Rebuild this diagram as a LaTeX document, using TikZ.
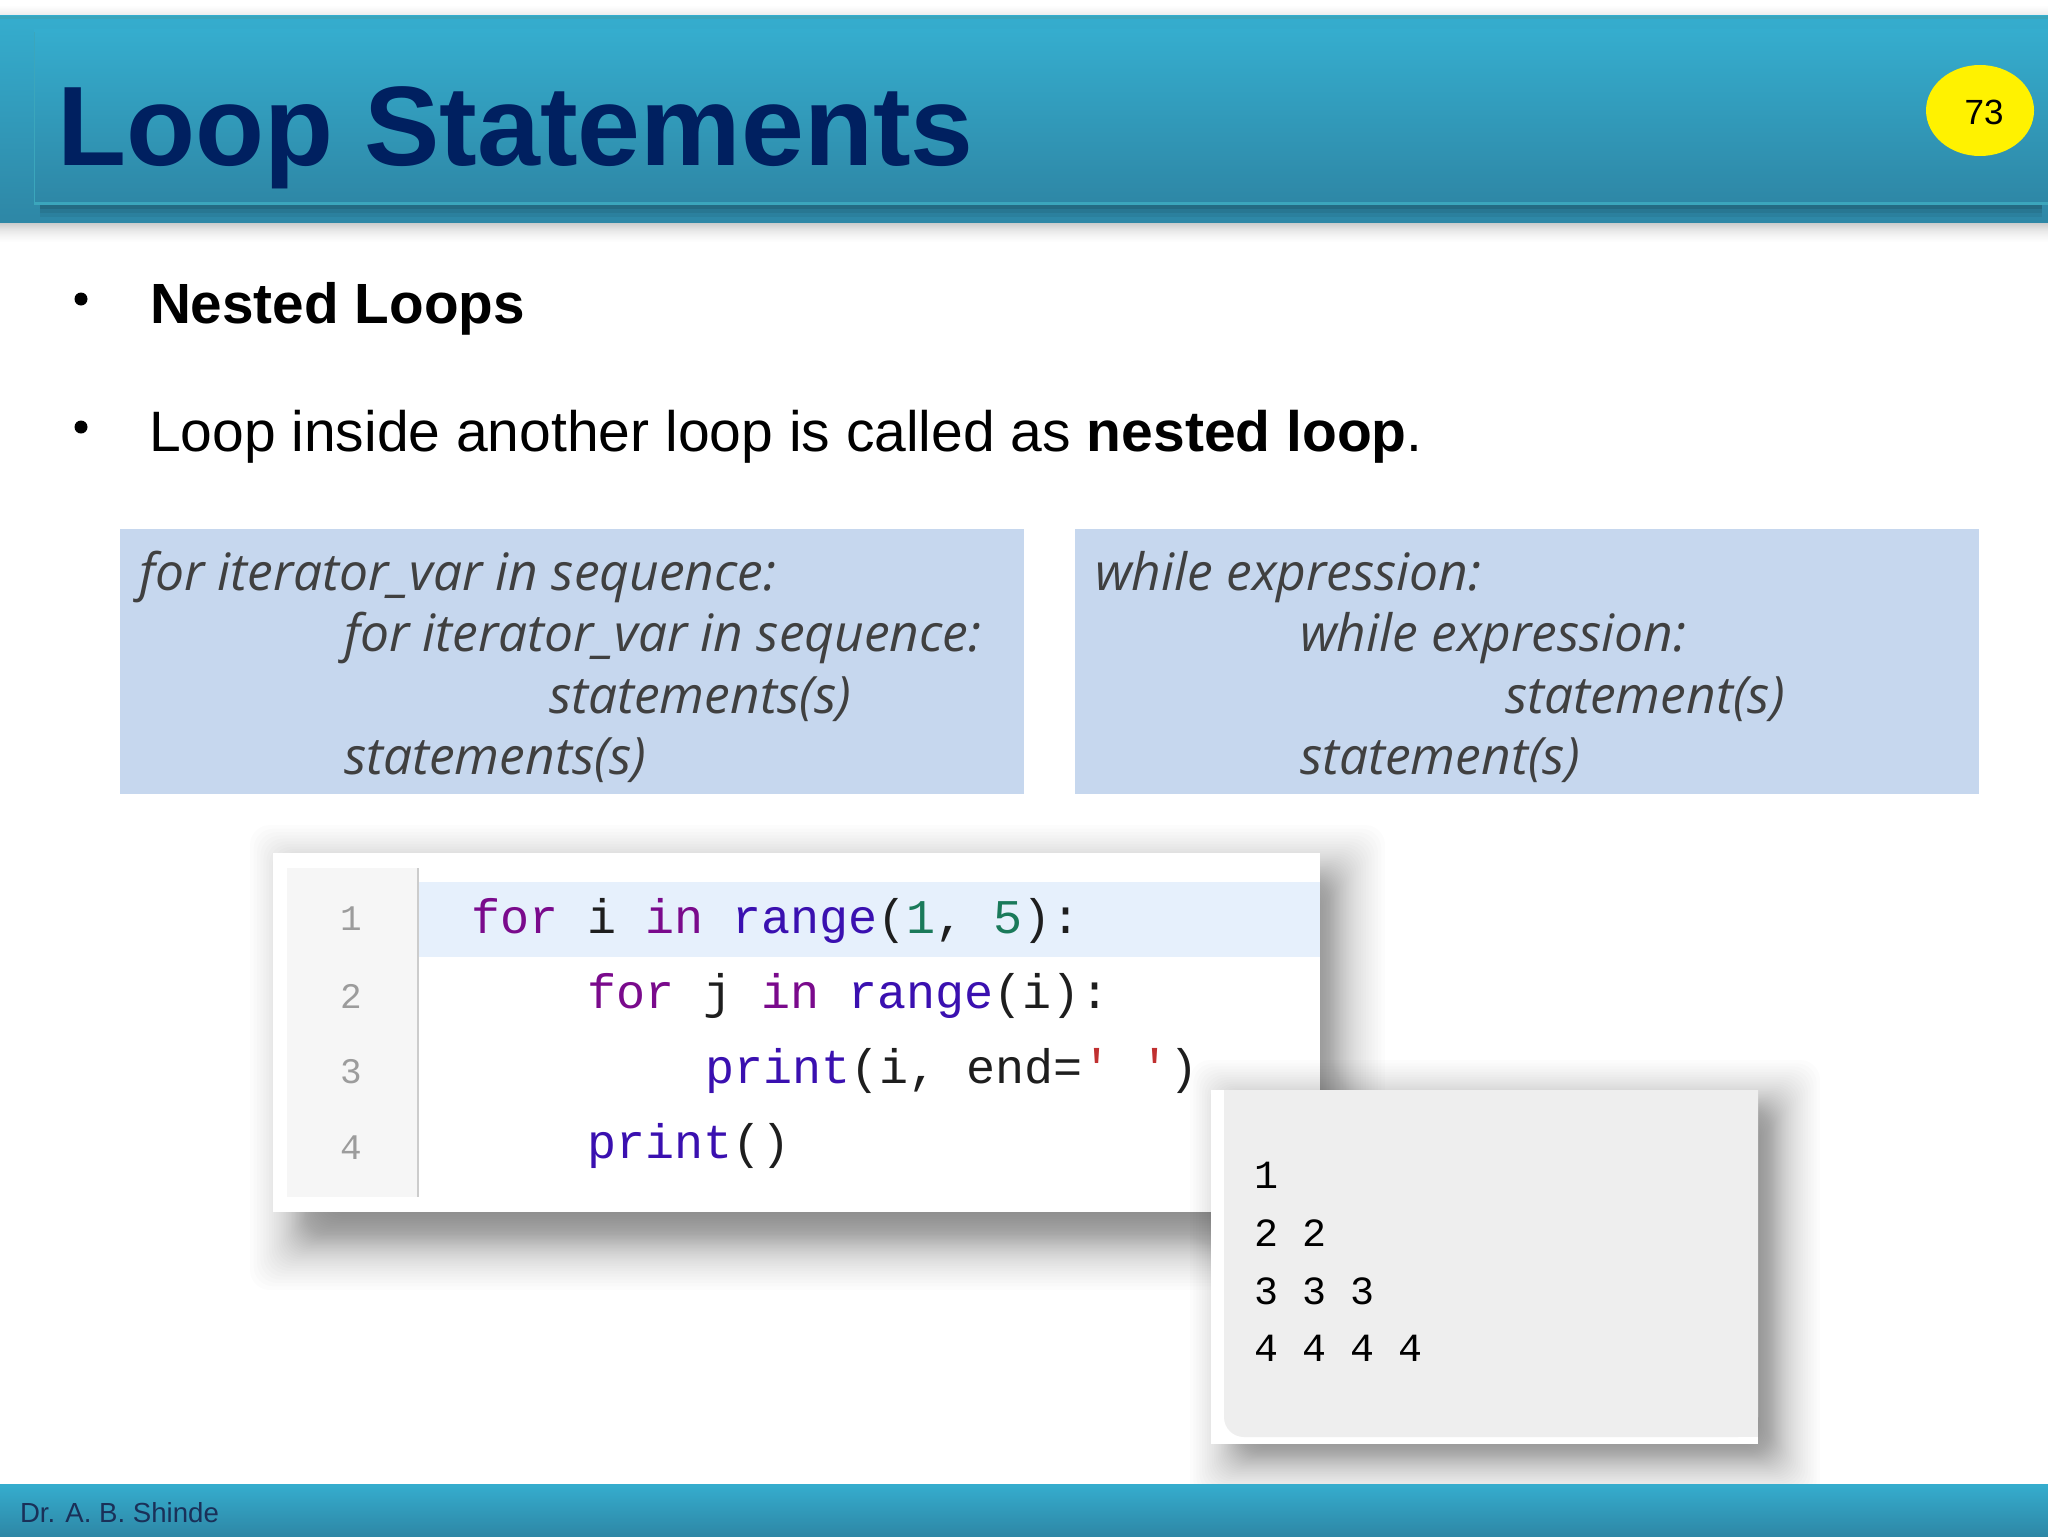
\documentclass[tikz,border=0pt]{standalone}
\usepackage{fontspec}
\setmainfont{Liberation Sans}
\newfontfamily\codefont{Liberation Mono}
\newfontfamily\boxfont{Open Sans}
\usetikzlibrary{shapes.geometric}
\definecolor{bandtop}{HTML}{35ADCE}
\definecolor{bandbot}{HTML}{2E87A6}
\definecolor{bandline}{HTML}{3BA6BC}
\definecolor{titleblue}{HTML}{002060}
\definecolor{boxblue}{HTML}{C6D7EE}
\definecolor{boxtext}{HTML}{404040}
\definecolor{kwpurple}{HTML}{7A0A8C}
\definecolor{fnblue}{HTML}{3A10B0}
\definecolor{numgreen}{HTML}{1A7A5A}
\definecolor{strred}{HTML}{C03030}
\definecolor{codeink}{HTML}{1E1E1E}
\definecolor{linenum}{HTML}{9C9C9C}
\definecolor{gutter}{HTML}{F6F6F6}
\definecolor{hilite}{HTML}{E6F0FC}
\definecolor{outgray}{HTML}{EEEEEE}
\definecolor{footink}{HTML}{1A3058}
\newcommand\softshade[6]{%
  \foreach \k in {0,...,48}{%
    \pgfmathsetmacro\uu{1-2*\k/48}%
    \pgfmathsetmacro\dd{#5*(0.6*\uu+0.4*\uu*\uu*\uu)}%
    \fill[black,opacity=#6,rounded corners=10pt] (#1-\dd,#2-\dd) rectangle (#3+\dd,#4+\dd);
  }}
\tikzset{
  x=0.5pt,y=-0.5pt,
  plain/.style={inner sep=0pt,outer sep=0pt},
  slidetext/.style={plain,anchor=base west,font=\fontsize{28.5}{34}\selectfont,text=black},
  bullet/.style={circle,fill=black,minimum size=13*0.5pt,plain},
  formula/.style={plain,anchor=base west,font=\boxfont\itshape\fontsize{25.75}{30}\selectfont,text=boxtext},
  codeline/.style={plain,anchor=base west,font=\codefont\fontsize{24.2}{28}\selectfont,text=codeink},
  numline/.style={plain,anchor=base,font=\codefont\fontsize{18}{22}\selectfont,text=linenum},
  outline/.style={plain,anchor=base west,font=\codefont\fontsize{20}{24}\selectfont,text=black},
}
\newcommand\kw[1]{\textcolor{kwpurple}{#1}}
\newcommand\fn[1]{\textcolor{fnblue}{#1}}
\newcommand\nm[1]{\textcolor{numgreen}{#1}}
\newcommand\st[1]{\textcolor{strred}{#1}}
\begin{document}
\begin{tikzpicture}
\useasboundingbox (0,0) rectangle (2048,1536);
\fill[white] (0,0) rectangle (2048,1536);
% header band
\softshade{-30}{24}{2078}{224}{18}{0.006}
\shade[top color=bandtop,bottom color=bandbot] (0,16) rectangle (2048,222);
\fill[bandline] (0,16) rectangle (2048,19);
\fill[black,opacity=0.22] (40,205) rectangle (2042,209);
\fill[black,opacity=0.13] (40,209) rectangle (2042,213);
\fill[black,opacity=0.06] (40,213) rectangle (2042,217);
\shade[top color=bandtop,bottom color=bandbot] (34,30) rectangle (2048,203);
\fill[bandline] (34,202) rectangle (2048,205);
\fill[bandline] (33.5,32) rectangle (35,205);
\node[plain,anchor=base west,font=\bfseries\fontsize{56.5}{60}\selectfont,text=titleblue] (title) at (57,165) {Loop Statements};
\node[ellipse,fill=yellow,minimum width=108*0.5pt,minimum height=91*0.5pt,plain] (badge) at (1980,110.5) {};
\node[plain,font=\fontsize{17.5}{20}\selectfont,text=black] (pagenum) at (1984,112) {73};
% bullets
\node[bullet] (b1) at (81,299) {};
\node[slidetext,font=\bfseries\fontsize{28.35}{34}\selectfont] (t1) at (150,323) {Nested Loops};
\node[bullet] (b2) at (81,427) {};
\node[slidetext] (t2) at (149,451) {Loop inside another loop is called as \textbf{nested loop}.};
% code panel shadow, under the blue boxes
\softshade{300}{875}{1335}{1240}{50}{0.011}
% blue boxes
\fill[boxblue] (120,529) rectangle (1024,794);
\fill[boxblue] (1075,529) rectangle (1979,794);
\node[formula] (fa) at (139,590) {for iterator\_var in sequence:};
\node[formula] (fb) at (344,651) {for iterator\_var in sequence:};
\node[formula] (fc) at (549,713) {statements(s)};
\node[formula] (fd) at (344,774) {statements(s)};
\node[formula] (wa) at (1095,590) {while expression:};
\node[formula] (wb) at (1300,651) {while expression:};
\node[formula] (wc) at (1505,713) {statement(s)};
\node[formula] (wd) at (1300,774) {statement(s)};
% code panel
\fill[white] (273,853) rectangle (1320,1212);
\fill[gutter] (287,868) rectangle (418,1197);
\fill[black!20] (417,868) rectangle (419,1197);
\fill[hilite] (419,882) rectangle (1320,957);
\node[numline] (n1) at (351,930) {1};
\node[numline] (n2) at (351,1008) {2};
\node[numline] (n3) at (351,1083) {3};
\node[numline] (n4) at (351,1159) {4};
\node[codeline] (c1) at (471,933) {\kw{for} i \kw{in} \fn{range}(\nm{1}, \nm{5}):};
\node[codeline] (c2) at (587,1008) {\kw{for} j \kw{in} \fn{range}(i):};
\node[codeline] (c3) at (705,1083) {\fn{print}(i, end=\st{' '})};
\node[codeline] (c4) at (587,1158) {\fn{print}()};
% output panel
\softshade{1235}{1105}{1775}{1458}{45}{0.011}
\fill[white] (1211,1090) rectangle (1758,1444);
\fill[outgray,rounded corners=10pt] (1224,1090) -- (1224,1437) -- (1758,1437) [sharp corners] -- (1758,1090) -- cycle;
\fill[outgray] (1224,1090) rectangle (1240,1110);
\fill[outgray] (1740,1420) rectangle (1758,1437);
\node[outline] (o1) at (1254,1188) {1};
\node[outline] (o2) at (1254,1246) {2 2};
\node[outline] (o3) at (1254,1304) {3 3 3};
\node[outline] (o4) at (1254,1361) {4 4 4 4};
% footer
\shade[top color=bandtop,bottom color=bandbot] (0,1484) rectangle (2048,1536);
\node[plain,anchor=base west,font=\fontsize{13.8}{16}\selectfont,text=footink] (foot) at (20,1522) {Dr. A. B. Shinde};
\end{tikzpicture}
\end{document}
